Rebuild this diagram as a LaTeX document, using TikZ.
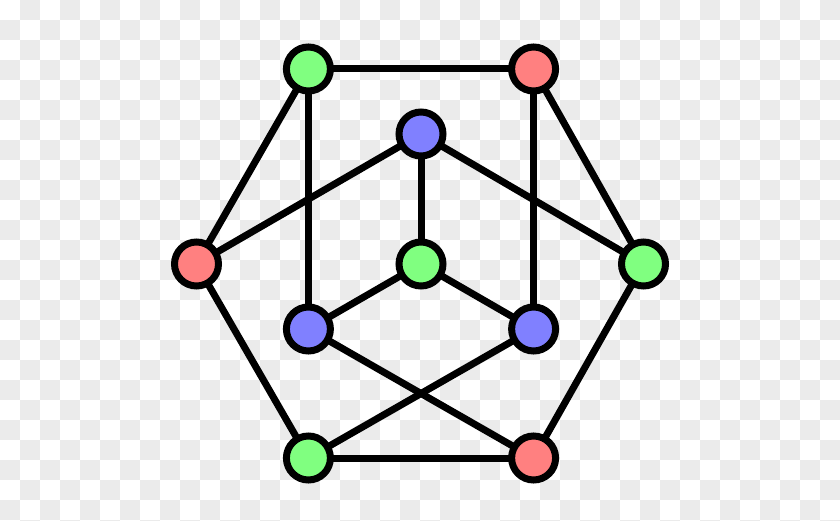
\documentclass[tikz,border=0pt]{standalone}
\usepackage{xcolor}
\usepackage{tikz}

\definecolor{chkgray}{RGB}{235,235,235}
\definecolor{vgreen}{RGB}{128,255,128}
\definecolor{vred}{RGB}{255,128,128}
\definecolor{vblue}{RGB}{128,128,255}

\begin{document}
\begin{tikzpicture}[x=1pt,y=-1pt]
      \tikzset{vtx/.style={circle,draw=black,line width=7pt,minimum size=44pt,inner sep=0pt,outer sep=0pt}}
      \tikzset{gnode/.style={vtx,fill=vgreen}}
      \tikzset{rnode/.style={vtx,fill=vred}}
      \tikzset{bnode/.style={vtx,fill=vblue}}
      \tikzset{edge/.style={draw=black,line width=7pt}}
      
      \useasboundingbox (0,0) rectangle (840,521);
      
      % checkerboard background
      \fill[white] (0,0) rectangle (840,521);
      \begin{scope}
      \clip (0,0) rectangle (840,521);
      \foreach \i in {0,...,41} {
        \foreach \j in {0,...,26} {
          \pgfmathtruncatemacro\k{\i+\j}
          \ifodd\k \fill[chkgray] (20*\i,20*\j) rectangle (20*\i+20,20*\j+20); \fi
        }
      }
      \end{scope}
      
      % outer vertices
      \node[gnode] (tl) at (308.4,69) {};
      \node[rnode] (tr) at (533.6,69) {};
      \node[rnode] (l) at (196.5,264) {};
      \node[gnode] (r) at (643.5,264) {};
      \node[gnode] (bl) at (308.4,458) {};
      \node[rnode] (br) at (533.6,458) {};
      
      % inner vertices
      \node[bnode] (t) at (421,134) {};
      \node[gnode] (c) at (421,264) {};
      \node[bnode] (ml) at (308.4,329) {};
      \node[bnode] (mr) at (533.6,329) {};
      
      \draw[edge] (tl) -- (tr);
      \draw[edge] (tl) -- (l);
      \draw[edge] (tl) -- (ml);
      \draw[edge] (tr) -- (r);
      \draw[edge] (tr) -- (mr);
      
      \draw[edge] (t) -- (l);
      \draw[edge] (t) -- (r);
      \draw[edge] (t) -- (c);
      \draw[edge] (c) -- (ml);
      \draw[edge] (c) -- (mr);
      
      \draw[edge] (l) -- (bl);
      \draw[edge] (r) -- (br);
      \draw[edge] (bl) -- (br);
      \draw[edge] (ml) -- (br);
      \draw[edge] (mr) -- (bl);
      
    \end{tikzpicture}
\end{document}
